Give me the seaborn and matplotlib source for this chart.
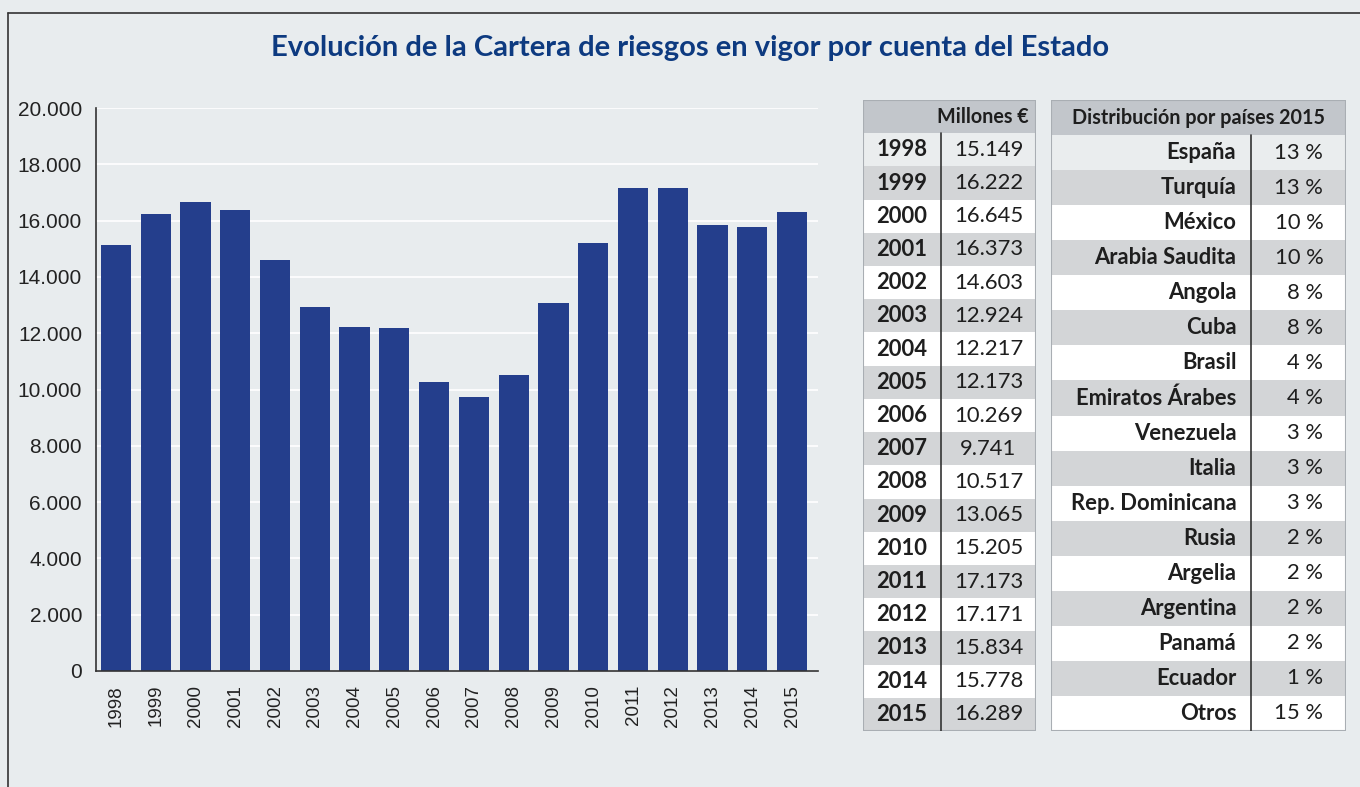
import matplotlib
matplotlib.use("Agg")
import matplotlib.pyplot as plt
import seaborn as sns
import pandas as pd
from matplotlib.lines import Line2D
from matplotlib.patches import Rectangle

# =====================
# Data
# =====================
years = ["1998", "1999", "2000", "2001", "2002", "2003", "2004", "2005", "2006",
         "2007", "2008", "2009", "2010", "2011", "2012", "2013", "2014", "2015"]
cartera = [15149, 16222, 16645, 16373, 14603, 12924, 12217, 12173, 10269,
           9741, 10517, 13065, 15205, 17173, 17171, 15834, 15778, 16289]
paises = ["España", "Turquía", "México", "Arabia Saudita", "Angola", "Cuba", "Brasil",
          "Emiratos Árabes", "Venezuela", "Italia", "Rep. Dominicana", "Rusia",
          "Argelia", "Argentina", "Panamá", "Ecuador", "Otros"]
porcentaje = [13, 13, 10, 10, 8, 8, 4, 4, 3, 3, 3, 2, 2, 2, 2, 1, 15]

title = "Evolución de la Cartera de riesgos en vigor por cuenta del Estado"

bg = "#e8ecee"
bar_color = "#243e8c"
title_color = "#0d3a80"
head_color = "#c2c6cb"
alt_color = "#d3d5d7"
first_color = "#eaedee"
text_color = "#1e1e1e"

sns.set_theme(style="white")
plt.rcParams["font.family"] = ["Lato", "DejaVu Sans"]

W, H = 1360, 787
fig = plt.figure(figsize=(W / 100, H / 100), dpi=100, facecolor=bg)


def fbox(x0, y0, x1, y1):
    # pixel box -> figure rect
    return [x0 / W, 1 - y1 / H, (x1 - x0) / W, (y1 - y0) / H]


# outer frame
fig.add_artist(Line2D([8 / W, 8 / W], [0, 1 - 13 / H], color="#333333", lw=1.2))
fig.add_artist(Line2D([8 / W, 1], [1 - 13 / H, 1 - 13 / H], color="#333333", lw=1.2))

fig.text(690 / W, 1 - 48 / H, title, ha="center", va="center",
         fontsize=21, fontweight="bold", color=title_color)

# =====================
# Bar chart
# =====================
ax = fig.add_axes(fbox(96, 108, 818, 671))
ax.set_facecolor(bg)
df = pd.DataFrame({"year": years, "valor": cartera})
sns.barplot(data=df, x="year", y="valor", color=bar_color, saturation=1,
            width=0.76, linewidth=0, ax=ax)
ax.set_ylim(0, 20000)
ax.set_xlim(-0.5, 17.65)
yt = list(range(0, 20001, 2000))
ax.set_yticks(yt)
ax.set_yticklabels([f"{v:,}".replace(",", ".") for v in yt],
                   fontsize=15, family="Liberation Sans", color="#222222")
ax.tick_params(axis="x", labelrotation=90, labelsize=13.5, length=0, pad=10)
ax.tick_params(axis="y", length=0, pad=10)
for lab in ax.get_xticklabels():
    lab.set_family("Liberation Sans")
    lab.set_color("#222222")
ax.yaxis.grid(True, color="white", lw=1.2)
ax.set_axisbelow(True)
ax.set_xlabel("")
ax.set_ylabel("")
for s in ["top", "right"]:
    ax.spines[s].set_visible(False)
for s in ["left", "bottom"]:
    ax.spines[s].set_color("#333333")
    ax.spines[s].set_linewidth(1.2)


# =====================
# Tables
# =====================
def draw_table(box, header, left, right, split, left_ha, header_ha):
    tax = fig.add_axes(fbox(*box))
    tax.set_xlim(0, 1)
    n = len(left)
    tax.set_ylim(n, -1)
    tax.axis("off")
    tax.add_patch(Rectangle((0, -1), 1, 1, color=head_color, lw=0))
    for i in range(n):
        if i == 0:
            c = first_color
        elif i % 2 == 1:
            c = alt_color
        else:
            c = "white"
        tax.add_patch(Rectangle((0, i), 1, 1, color=c, lw=0))
    tax.add_patch(Rectangle((0, -1), 1, n + 1, fill=False, ec="#a9aeb3", lw=1.5))
    tax.plot([split, split], [0, n], color="#333333", lw=1.2)
    hx = 0.5 if header_ha == "center" else 0.955
    tax.text(hx, -0.5, header, ha=header_ha, va="center", fontsize=14.2,
             fontweight="bold", color=text_color)
    for i in range(n):
        if left_ha == "center":
            tax.text(split / 2, i + 0.5, left[i], ha="center", va="center",
                     fontsize=15.8, fontweight="bold", color=text_color)
            tax.text((split + 1) / 2, i + 0.5, right[i], ha="center", va="center",
                     fontsize=15.8, color=text_color)
        else:
            tax.text(split - 0.05, i + 0.5, left[i], ha="right", va="center",
                     fontsize=15.8, fontweight="bold", color=text_color)
            tax.text(split + 0.245, i + 0.5, right[i], ha="right", va="center",
                     fontsize=15.8, color=text_color)


draw_table((863, 100, 1036, 731), "Millones €", years,
           [f"{v:,}".replace(",", ".") for v in cartera], 0.451, "center", "right")
draw_table((1051, 100, 1346, 731), "Distribución por países 2015", paises,
           [f"{p} %" for p in porcentaje], 0.678, "right", "center")

plt.savefig("out.png", dpi=100, facecolor=bg)
plt.close()
